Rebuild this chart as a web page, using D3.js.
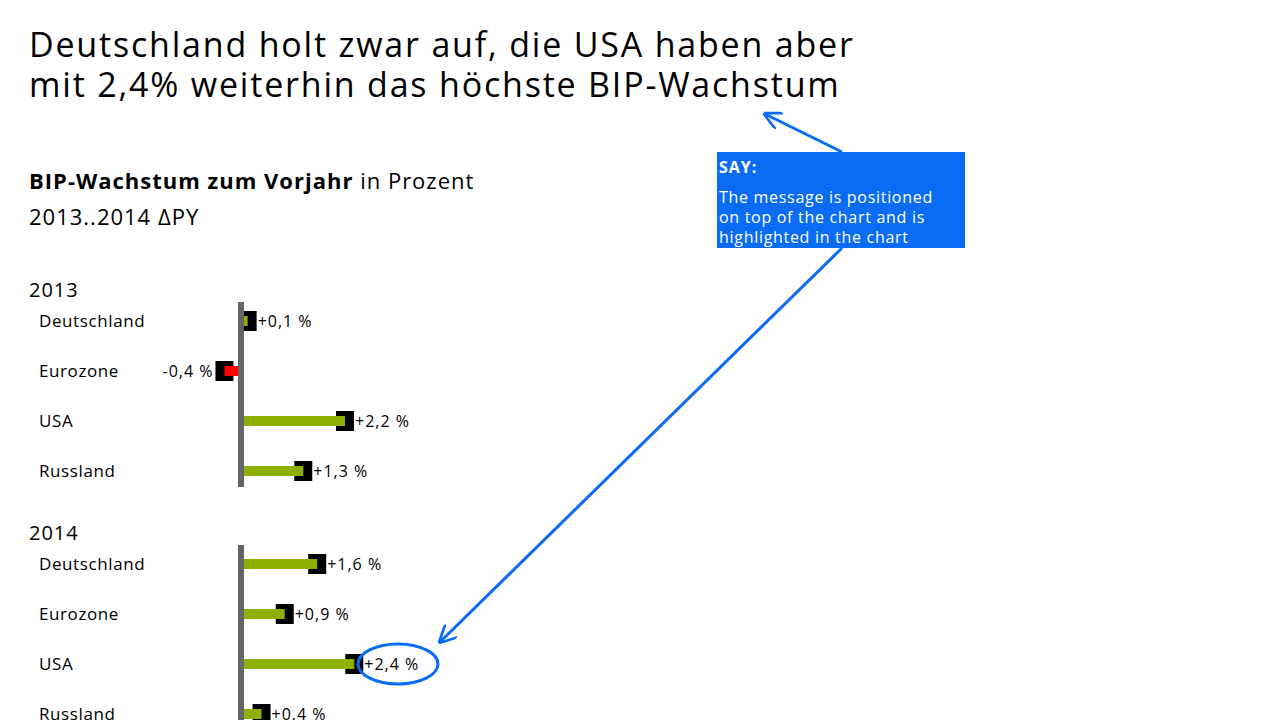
<!DOCTYPE html>
<html><head><meta charset="utf-8">
<script src="https://cdn.jsdelivr.net/npm/d3@7"></script>
<style>body{margin:0;background:#fff}svg{font-family:"Open Sans",sans-serif}</style>
</head><body><svg id="c" width="1280" height="720"></svg>
<script>
const years = ["2013", "2014"];
const countries = ["Deutschland", "Eurozone", "USA", "Russland"];
const values2013 = [0.1, -0.4, 2.2, 1.3];
const values2014 = [1.6, 0.9, 2.4, 0.4];
const labels2013 = ["+0,1 %", "-0,4 %", "+2,2 %", "+1,3 %"];
const labels2014 = ["+1,6 %", "+0,9 %", "+2,4 %", "+0,4 %"];

const svg = d3.select("#c");
const blue = "#0a6cf5";

svg.append("text").attr("x", 29).attr("y", 57).attr("font-size", 34).attr("letter-spacing", 1.8).text("Deutschland holt zwar auf, die USA haben aber");
svg.append("text").attr("x", 29).attr("y", 97).attr("font-size", 34).attr("letter-spacing", 1.8).text("mit 2,4% weiterhin das höchste BIP-Wachstum");
const st = svg.append("text").attr("x", 29).attr("y", 189).attr("font-size", 22).attr("letter-spacing", 1);
st.append("tspan").attr("font-weight", "bold").text("BIP-Wachstum zum Vorjahr");
st.append("tspan").text("  in Prozent");
svg.append("text").attr("x", 29).attr("y", 225).attr("font-size", 22).attr("letter-spacing", 1).text("2013..2014 ΔPY");

const x = d3.scaleLinear().domain([0, 2.2]).range([243, 345]);
const blocks = [
  {year: years[0], vals: values2013, labs: labels2013, top: 290},
  {year: years[1], vals: values2014, labs: labels2014, top: 533}
];

blocks.forEach(b => {
  const y = d3.scaleBand().domain(countries).range([b.top + 6, b.top + 206]);
  svg.append("text").attr("x", 29).attr("y", b.top + 7).attr("font-size", 20).attr("letter-spacing", 1).text(b.year);
  countries.forEach((c, i) => {
    const cy = y(c) + y.bandwidth() / 2;
    const v = b.vals[i];
    svg.append("text").attr("x", 39).attr("y", cy + 6).attr("font-size", 17).attr("letter-spacing", 0.6).text(c);
    svg.append("rect").attr("x", x(v) - 9).attr("y", cy - 10).attr("width", 18).attr("height", 20).attr("fill", "#000");
    svg.append("rect").attr("x", Math.min(x(0), x(v))).attr("y", cy - 5)
      .attr("width", Math.abs(x(v) - x(0))).attr("height", 10).attr("fill", v < 0 ? "#ff0000" : "#8db000");
    svg.append("text").attr("x", v < 0 ? x(v) - 11 : x(v) + 10).attr("y", cy + 6)
      .attr("text-anchor", v < 0 ? "end" : "start").attr("font-size", 16).attr("letter-spacing", 1).text(b.labs[i]);
  });
  svg.append("line").attr("x1", x(0) - 2).attr("x2", x(0) - 2).attr("y1", b.top + 12).attr("y2", b.top + 197)
    .attr("stroke", "#666").attr("stroke-width", 6);
});

// annotation
svg.append("rect").attr("x", 717).attr("y", 152).attr("width", 248).attr("height", 96).attr("fill", blue);
svg.append("text").attr("x", 719).attr("y", 173).attr("fill", "#fff").attr("font-size", 16).attr("font-weight", "bold").attr("letter-spacing", 1).text("SAY:");
["The message is positioned", "on top of the chart and is", "highlighted in the chart"].forEach((t, i) =>
  svg.append("text").attr("x", 719).attr("y", 203 + i * 20).attr("fill", "#fff").attr("font-size", 16).attr("letter-spacing", 0.7).text(t));
const defs = svg.append("defs");
defs.append("marker").attr("id", "ah").attr("viewBox", "0 0 10 10").attr("refX", 9).attr("refY", 5)
  .attr("markerWidth", 6).attr("markerHeight", 6).attr("orient", "auto")
  .append("path").attr("d", "M0,0 L10,5 L0,10").attr("fill", "none").attr("stroke", blue).attr("stroke-width", 1.5);
svg.append("line").attr("x1", 842).attr("y1", 152).attr("x2", 765).attr("y2", 114)
  .attr("stroke", blue).attr("stroke-width", 3).attr("marker-end", "url(#ah)");
svg.append("line").attr("x1", 842).attr("y1", 248).attr("x2", 440).attr("y2", 642)
  .attr("stroke", blue).attr("stroke-width", 3).attr("marker-end", "url(#ah)");
svg.append("ellipse").attr("cx", 398).attr("cy", 664).attr("rx", 40).attr("ry", 20)
  .attr("fill", "none").attr("stroke", blue).attr("stroke-width", 3);
</script></body></html>
